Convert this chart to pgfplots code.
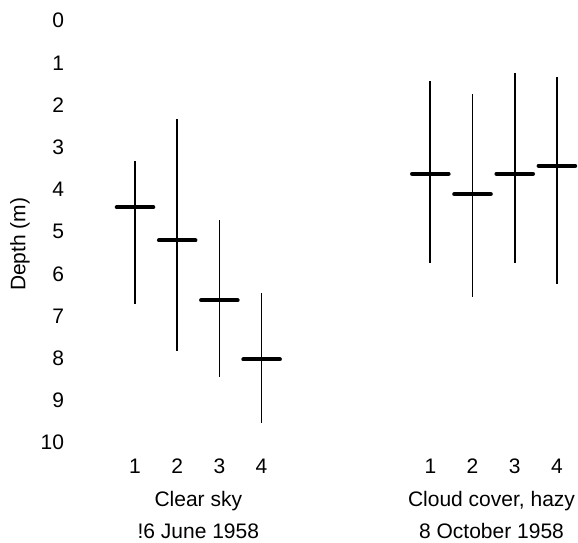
\documentclass[border=0pt]{standalone}
\usepackage{fontspec}
\setmainfont{Liberation Sans}
\usepackage{pgfplots}
\usepackage{pgfplotstable}
\pgfplotsset{compat=1.18}

% Depth range (top, bottom) and mean depth for each sample
\pgfplotstableread{
x  top   mean  bottom
1  3.32  4.42  6.71
2  2.34  5.21  7.82
3  4.72  6.63  8.44
4  6.45  8.03  9.54
}\clearsky
\pgfplotstableread{
x   top   mean  bottom
8   1.42  3.63  5.75
9   1.74  4.11  6.54
10  1.25  3.63  5.75
11  1.34  3.44  6.24
}\cloudy

\pgfplotsset{
  rangeplot/.style={black, only marks, mark=-, mark size=18.3bp,
    mark options={line width=4bp, line cap=round},
    error bars/.cd, y dir=both, y explicit, error mark=none,
    error bar style={line width=1.7bp, black}},
}
\newcommand{\lblfont}{\fontsize{21bp}{25bp}\selectfont}

\begin{document}
\begin{tikzpicture}
\begin{axis}[
  x=42.2bp, y=42.2bp,
  y dir=reverse,
  xmin=-0.6, xmax=11.5, ymin=0, ymax=10,
  enlargelimits=false,
  clip=false,
  axis line style={draw=none},
  major tick length=0pt,
  xtick={1,2,3,4,8,9,10,11},
  xticklabels={1,2,3,4,1,2,3,4},
  ytick={0,...,10},
  yticklabels={0,1,2,3,4,5,6,7,8,9,10},
  /pgf/number format/assume math mode=true,
  tick label style={font=\lblfont},
  xticklabel style={anchor=base, yshift=-30.6bp},
  yticklabel style={anchor=east},
]
\addplot[rangeplot] table[x=x, y=mean,
    y error plus expr=\thisrow{bottom}-\thisrow{mean},
    y error minus expr=\thisrow{mean}-\thisrow{top}] {\clearsky};
\addplot[rangeplot] table[x=x, y=mean,
    y error plus expr=\thisrow{bottom}-\thisrow{mean},
    y error minus expr=\thisrow{mean}-\thisrow{top}] {\cloudy};
\node[anchor=base, font=\lblfont] at (axis cs:2.5,11.52) {Clear sky};
\node[anchor=base, font=\lblfont] at (axis cs:2.5,12.27) {!6 June 1958};
\node[anchor=base, font=\lblfont] at (axis cs:9.45,11.52) {Cloud cover, hazy};
\node[anchor=base, font=\lblfont] at (axis cs:9.45,12.27) {8 October 1958};
\node[rotate=90, font=\lblfont] at (axis cs:-1.725,5.3) {Depth (m)};
\coordinate (bbA) at (axis cs:-2.2,-0.49);
\coordinate (bbB) at (axis cs:11.5,12.377);
\end{axis}
\pgfresetboundingbox
\path[use as bounding box] (bbA) rectangle (bbB);
\end{tikzpicture}
\end{document}
